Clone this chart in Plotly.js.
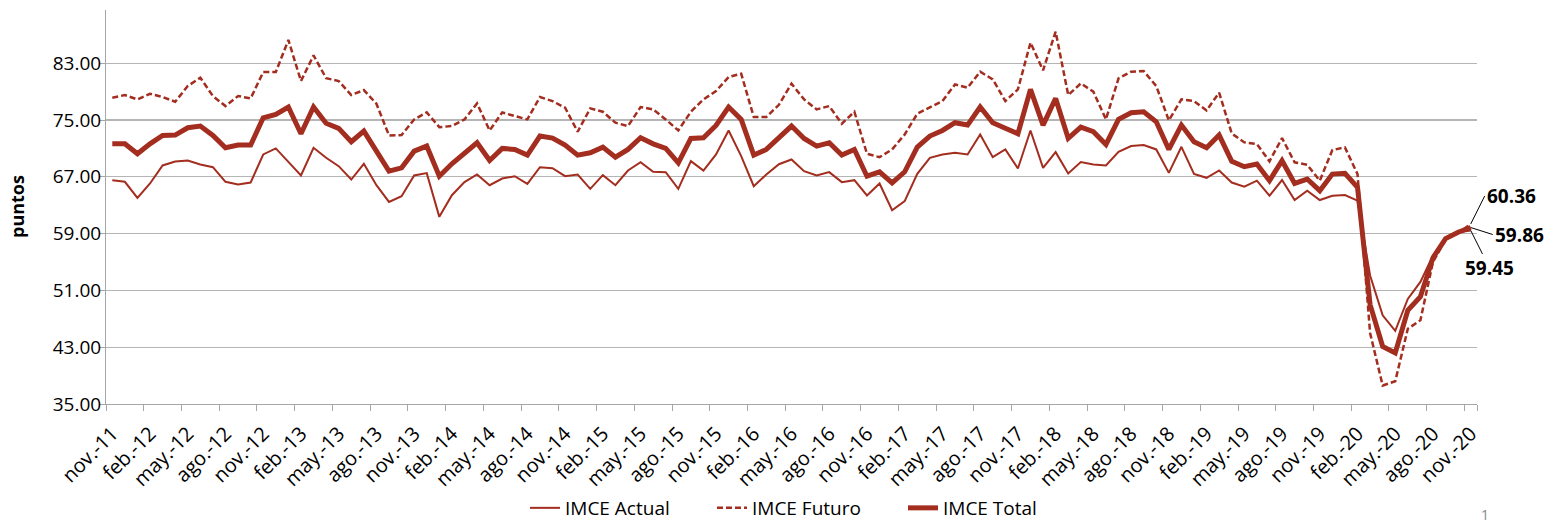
<!DOCTYPE html>
<html>
<head>
<meta charset="utf-8">
<script src="https://cdn.plot.ly/plotly-3.0.1.min.js"></script>
<style>
  html, body { margin: 0; padding: 0; background: #ffffff; }
  #chart { width: 1559px; height: 523px; }
</style>
</head>
<body>
<div id="chart"></div>
<script>
// Month abbreviations (Spanish) and years for category labels
const monthNames = ["ene.", "feb.", "mar.", "abr.", "may.", "jun.", "jul.", "ago.", "sep.", "oct.", "nov.", "dic."];
const startMonth = 10;  // nov
const startYear = 2011;

const imceActual = [
  66.53, 66.30, 64.04, 66.06, 68.60, 69.16, 69.30, 68.74, 68.36, 66.30, 65.92, 66.20,
  70.15, 71.00, 69.10, 67.19, 71.09, 69.68, 68.50, 66.62, 68.83, 65.82, 63.47, 64.27,
  67.19, 67.52, 61.36, 64.41, 66.25, 67.33, 65.82, 66.76, 67.09, 66.01, 68.36, 68.22,
  67.09, 67.33, 65.31, 67.24, 65.82, 67.89, 69.07, 67.71, 67.66, 65.31, 69.21, 67.89,
  70.15, 73.53, 69.91, 65.68, 67.33, 68.78, 69.44, 67.80, 67.19, 67.66, 66.25, 66.53,
  64.37, 66.06, 62.30, 63.57, 67.42, 69.68, 70.15, 70.39, 70.15, 72.97, 69.77, 70.86,
  68.18, 73.53, 68.27, 70.48, 67.47, 69.07, 68.74, 68.60, 70.53, 71.33, 71.47, 70.86,
  67.56, 71.23, 67.42, 66.86, 67.89, 66.20, 65.61, 66.46, 64.34, 66.55, 63.73, 65.05,
  63.73, 64.34, 64.44, 63.64, 53.10, 47.50, 45.30, 49.80, 52.20, 55.90, 58.40, 59.20,
  59.45
];

const imceFuturo = [
  78.14, 78.52, 77.90, 78.70, 78.24, 77.58, 79.79, 80.96, 78.38, 76.97, 78.38, 78.05,
  81.76, 81.76, 86.28, 80.49, 84.11, 80.90, 80.49, 78.52, 79.22, 77.30, 72.83, 72.88,
  75.09, 76.07, 74.00, 74.15, 75.09, 77.34, 73.53, 76.07, 75.56, 75.09, 78.24, 77.67,
  76.73, 73.35, 76.64, 76.17, 74.62, 74.15, 76.83, 76.50, 75.09, 73.53, 76.17, 77.91,
  79.08, 81.06, 81.53, 75.42, 75.42, 77.15, 80.12, 77.91, 76.50, 76.97, 74.48, 76.17,
  70.24, 69.77, 70.86, 72.97, 75.89, 76.83, 77.67, 80.02, 79.55, 81.81, 80.73, 77.67,
  79.32, 85.90, 82.00, 87.45, 78.52, 80.16, 78.99, 75.09, 80.87, 81.81, 81.90, 79.79,
  74.95, 77.91, 77.67, 76.36, 78.85, 73.10, 71.85, 71.62, 69.18, 72.46, 69.04, 68.71,
  66.46, 70.77, 71.15, 67.39, 45.00, 37.60, 38.20, 45.60, 46.80, 55.00, 58.20, 59.10,
  60.36
];

const imceTotal = [
  71.65, 71.65, 70.24, 71.65, 72.83, 72.88, 73.91, 74.15, 72.83, 71.09, 71.47, 71.47,
  75.32, 75.79, 76.83, 73.06, 76.83, 74.55, 73.82, 71.94, 73.44, 70.53, 67.80, 68.27,
  70.62, 71.33, 67.09, 68.83, 70.24, 71.80, 69.30, 71.00, 70.86, 70.06, 72.74, 72.45,
  71.47, 70.06, 70.39, 71.18, 69.77, 70.86, 72.50, 71.65, 71.00, 68.97, 72.41, 72.50,
  74.24, 76.83, 75.09, 70.06, 70.86, 72.45, 74.15, 72.41, 71.33, 71.80, 70.06, 70.86,
  67.09, 67.71, 66.15, 67.71, 71.18, 72.74, 73.53, 74.62, 74.29, 76.83, 74.62, 73.85,
  73.06, 79.32, 74.29, 78.05, 72.41, 74.00, 73.35, 71.56, 75.09, 76.03, 76.17, 74.76,
  70.86, 74.29, 71.94, 71.09, 72.88, 69.20, 68.43, 68.80, 66.46, 69.27, 66.08, 66.69,
  65.05, 67.39, 67.49, 65.52, 49.00, 43.10, 42.20, 48.20, 50.10, 55.60, 58.30, 59.20,
  59.86
];

const yTickValues = [35, 43, 51, 59, 67, 75, 83];

// category labels
const categories = imceTotal.map((_, i) => {
  const m = (startMonth + i) % 12;
  const y = startYear + Math.floor((startMonth + i) / 12);
  return monthNames[m] + "-" + String(y).slice(2);
});
const idx = categories.map((_, i) => i);
const labelIdx = idx.filter(i => i % 3 === 0);
const labelText = labelIdx.map(i => categories[i]);
const boundaries = labelIdx.map(i => i - 0.5).concat([idx.length - 0.5]);

const red = "#A32D1F";
const fontFam = "'Open Sans', 'Liberation Sans', sans-serif";

// plot area in pixels
const W = 1559, H = 523, L = 106, R = 82, T = 10, B = 119;
const pw = W - L - R, ph = H - T - B;
const px = x => (x - L) / pw;
const py = y => (H - B - y) / ph;

const legendFont = { family: fontFam, size: 19, color: "#000" };
const legBase = { orientation: "h", xanchor: "left", yanchor: "middle", y: py(508),
                  font: legendFont, itemwidth: 30, bgcolor: "rgba(0,0,0,0)", borderwidth: 0 };

const traces = [
  { x: idx, y: imceActual, type: "scatter", mode: "lines", name: "IMCE Actual", legend: "legend",
    line: { color: red, width: 2 }, hoverinfo: "skip" },
  { x: idx, y: imceFuturo, type: "scatter", mode: "lines", name: "IMCE Futuro", legend: "legend2",
    line: { color: red, width: 2.5, dash: "6px,3px" }, hoverinfo: "skip" },
  { x: idx, y: imceTotal, type: "scatter", mode: "lines", name: "IMCE Total", legend: "legend3",
    line: { color: red, width: 5 }, hoverinfo: "skip" }
];

const last = idx.length - 1;
const fmt = v => v.toFixed(2);

const layout = {
  width: W, height: H,
  margin: { l: L, r: R, t: T, b: B, autoexpand: false },
  paper_bgcolor: "#ffffff", plot_bgcolor: "#ffffff",
  font: { family: fontFam, color: "#000000", size: 19 },
  showlegend: true,
  legend: Object.assign({}, legBase, { x: px(525) }),
  legend2: Object.assign({}, legBase, { x: px(712) }),
  legend3: Object.assign({}, legBase, { x: px(903) }),
  xaxis: {
    type: "linear", range: [-0.5, idx.length - 0.5], automargin: false,
    tickmode: "array", tickvals: labelIdx, ticktext: labelText,
    tickangle: -45, ticks: "", ticklabelstandoff: 9,
    showgrid: false, zeroline: false,
    showline: true, linecolor: "#a6a6a6", linewidth: 1,
    tickfont: { family: fontFam, size: 20, color: "#000" },
    minor: { tickmode: "array", tickvals: boundaries, ticks: "outside", ticklen: 6,
             tickcolor: "#a6a6a6", tickwidth: 1, showgrid: false }
  },
  yaxis: {
    range: [35, 90.5], tickmode: "array", tickvals: yTickValues, automargin: false,
    tickformat: ".2f", showgrid: true, gridcolor: "#b5b5b5", gridwidth: 1.3,
    zeroline: false, showline: true, linecolor: "#a6a6a6", linewidth: 1,
    ticks: "outside", ticklen: 6, tickcolor: "#a6a6a6", ticklabelstandoff: -6,
    tickfont: { family: fontFam, size: 19, color: "#000" }
  },
  annotations: [
    { x: px(17), y: py(207), xref: "paper", yref: "paper", text: "<b>puntos</b>", showarrow: false,
      textangle: -90, xanchor: "center", yanchor: "middle",
      font: { family: fontFam, size: 18, color: "#000" } },
    { x: last, y: imceFuturo[last], xref: "x", yref: "y", text: "<b>" + fmt(imceFuturo[last]) + "</b>",
      showarrow: true, arrowhead: 0, arrowwidth: 1, arrowcolor: "#000",
      ax: 14, ay: -28, xanchor: "left", font: { size: 19, color: "#000", family: fontFam } },
    { x: last, y: imceTotal[last], xref: "x", yref: "y", text: "<b>" + fmt(imceTotal[last]) + "</b>",
      showarrow: true, arrowhead: 0, arrowwidth: 1, arrowcolor: "#000",
      ax: 22, ay: 7, xanchor: "left", font: { size: 19, color: "#000", family: fontFam } },
    { x: last, y: imceActual[last], xref: "x", yref: "y", text: "<b>" + fmt(imceActual[last]) + "</b>",
      showarrow: true, arrowhead: 0, arrowwidth: 1, arrowcolor: "#000",
      ax: 19, ay: 38, font: { size: 19, color: "#000", family: fontFam } },
    { x: px(1485), y: py(514), xref: "paper", yref: "paper", text: "1", showarrow: false,
      xanchor: "center", yanchor: "middle", font: { size: 14, color: "#888" } }
  ]
};

Plotly.newPlot("chart", traces, layout, { displayModeBar: false, staticPlot: true });
</script>
</body>
</html>
